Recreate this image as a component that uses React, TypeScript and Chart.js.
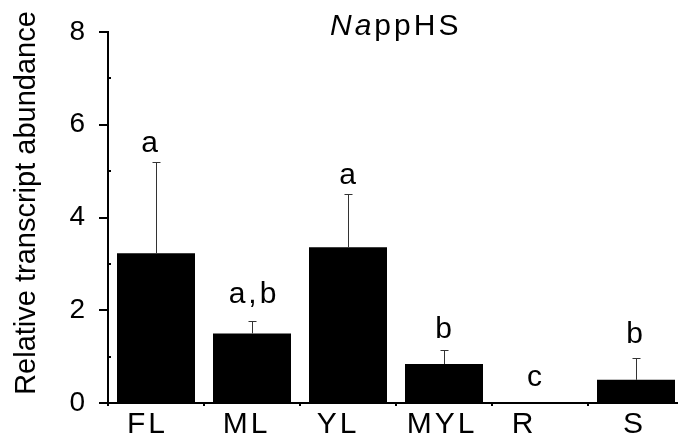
import React, { useEffect, useRef } from "react";
import { Chart, registerables } from "chart.js";

Chart.register(...registerables);

const categories = ["FL", "ML", "YL", "MYL", "R", "S"];
const means = [3.23, 1.5, 3.36, 0.84, 0.02, 0.5];
const upperError: (number | null)[] = [5.2, 1.77, 4.5, 1.14, null, 0.98];
const letters = ["a", "a,b", "a", "b", "c", "b"];
const letterValue = [5.41, 2.16, 4.73, 1.4, 0.37, 1.29];
const yTicks = [0, 2, 4, 6, 8];
const yMinorTicks = [1, 3, 5, 7];

// styling nudges (px) for hand-placed text in the original figure
const letterNudge = [-5, 2, 1, 1, -4, 0];
const labelNudge = [-8.5, -5.5, -10, -2, -16, -1.5];

const FONT = "'Liberation Sans', Arial, Helvetica, sans-serif";

const overlay = {
  id: "overlay",
  afterDatasetsDraw(chart: any) {
    const ctx: CanvasRenderingContext2D = chart.ctx;
    const xs = chart.scales.x;
    const ys = chart.scales.y;
    ctx.save();
    // error bars
    ctx.strokeStyle = "#333";
    ctx.lineWidth = 1;
    upperError.forEach((u, i) => {
      if (u == null) return;
      const x = Math.round(xs.getPixelForValue(i)) + 0.5;
      const y0 = ys.getPixelForValue(means[i]);
      const y1 = Math.round(ys.getPixelForValue(u)) + 0.5;
      ctx.beginPath();
      ctx.moveTo(x, y0);
      ctx.lineTo(x, y1);
      ctx.moveTo(x - 4, y1);
      ctx.lineTo(x + 4, y1);
      ctx.stroke();
    });
    // minor ticks
    ctx.strokeStyle = "#000";
    ctx.lineWidth = 2;
    yMinorTicks.forEach((v) => {
      const y = Math.round(ys.getPixelForValue(v));
      ctx.beginPath();
      ctx.moveTo(chart.chartArea.left, y);
      ctx.lineTo(chart.chartArea.left + 3, y);
      ctx.stroke();
    });
    ctx.fillStyle = "#000";
    const anyCtx = ctx as any;
    const hasLS = "letterSpacing" in anyCtx;
    // significance letters
    ctx.font = `30px ${FONT}`;
    ctx.textAlign = "center";
    ctx.textBaseline = "alphabetic";
    if (hasLS) anyCtx.letterSpacing = "3px";
    letters.forEach((t, i) => {
      const x = xs.getPixelForValue(i) + letterNudge[i];
      const y = ys.getPixelForValue(letterValue[i]);
      ctx.fillText(t, x, y);
    });
    // category labels
    categories.forEach((c, i) => {
      const x = xs.getPixelForValue(i) + labelNudge[i];
      ctx.fillText(c, x, xs.top + 30);
    });
    // title with italic species prefix
    const titleY = 35;
    ctx.textAlign = "left";
    ctx.font = `italic 30px ${FONT}`;
    let tx = 330;
    ctx.fillText("Na", tx, titleY);
    tx += ctx.measureText("Na").width;
    ctx.font = `30px ${FONT}`;
    ctx.fillText("ppHS", tx, titleY);
    // y axis title
    if (hasLS) anyCtx.letterSpacing = "0px";
    ctx.font = `29px ${FONT}`;
    ctx.textAlign = "center";
    ctx.translate(35, 203);
    ctx.rotate(-Math.PI / 2);
    ctx.fillText("Relative transcript abundance", 0, 0);
    ctx.restore();
  },
};

export default function App() {
  const ref = useRef<HTMLCanvasElement | null>(null);
  useEffect(() => {
    if (!ref.current) return;
    const chart = new Chart(ref.current, {
      type: "bar",
      data: {
        labels: categories,
        datasets: [
          {
            data: means,
            backgroundColor: "#000",
            borderWidth: 0,
            barPercentage: 0.8125,
            categoryPercentage: 1,
          },
        ],
      },
      options: {
        animation: false,
        responsive: true,
        maintainAspectRatio: false,
        layout: { padding: { top: 32, left: 0, right: 0, bottom: 0 } },
        plugins: { legend: { display: false }, tooltip: { enabled: false } },
        scales: {
          x: {
            offset: true,
            grid: {
              display: true,
              drawOnChartArea: false,
              offset: true,
              tickLength: 3,
              color: "#000",
              lineWidth: 2,
            },
            border: { display: true, color: "#000", width: 2 },
            ticks: { display: false },
            afterFit: (s: any) => {
              s.height = 36;
            },
          },
          y: {
            min: 0,
            max: 8,
            afterBuildTicks: (s: any) => {
              s.ticks = yTicks.map((v) => ({ value: v }));
            },
            ticks: {
              stepSize: 2,
              color: "#000",
              padding: 14,
              font: { family: FONT, size: 28 },
            },
            grid: {
              drawOnChartArea: false,
              tickLength: 9,
              color: "#000",
              lineWidth: 2,
            },
            border: { display: true, color: "#000", width: 2 },
            afterFit: (s: any) => {
              s.width = 108;
            },
          },
        },
      },
      plugins: [overlay],
    });
    return () => chart.destroy();
  }, []);
  return (
    <div
      style={{
        position: "fixed",
        left: 0,
        top: 0,
        width: 678,
        height: 439,
        overflow: "hidden",
        background: "#fff",
      }}
    >
      <div style={{ position: "relative", width: 684, height: 439 }}>
        <canvas ref={ref} />
      </div>
    </div>
  );
}
